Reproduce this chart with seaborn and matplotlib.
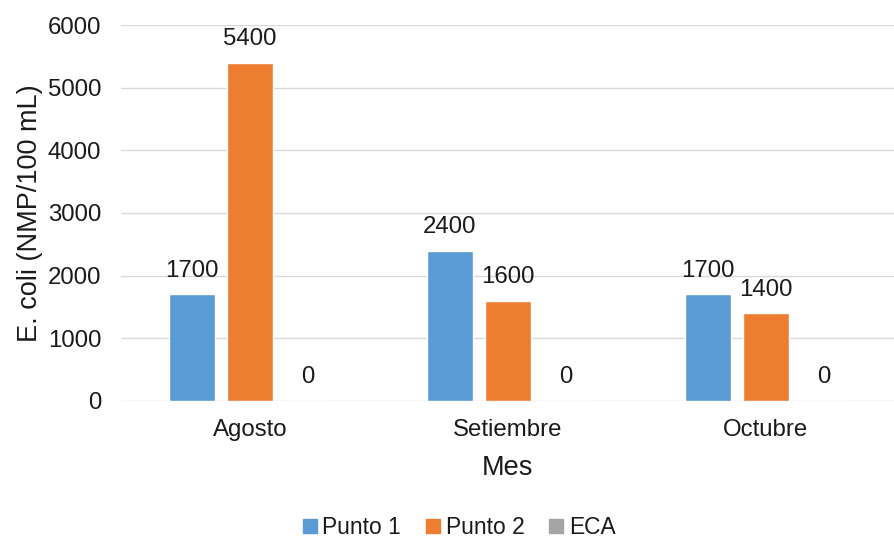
import pandas as pd
import matplotlib.pyplot as plt
import seaborn as sns

# --- data ---
meses = ["Agosto", "Setiembre", "Octubre"]
punto1 = [1700, 2400, 1700]
punto2 = [5400, 1600, 1400]
eca = [0, 0, 0]
series = ["Punto 1", "Punto 2", "ECA"]
colores = ["#5B9BD5", "#ED7D31", "#A5A5A5"]
yticks = [0, 1000, 2000, 3000, 4000, 5000, 6000]

df = pd.DataFrame({
    "Mes": meses * 3,
    "Serie": ["Punto 1"] * 3 + ["Punto 2"] * 3 + ["ECA"] * 3,
    "valor": punto1 + punto2 + eca,
})

sns.set_theme(style="white")
plt.rcParams["font.family"] = ["Liberation Sans", "DejaVu Sans"]
txt = "#1a1a1a"

fig = plt.figure(figsize=(8.95, 5.44), dpi=100)
ax = fig.add_axes([0.135, 0.263, 0.865, 0.691])

sns.barplot(data=df, x="Mes", y="valor", hue="Serie", order=meses,
            hue_order=series, palette=colores, width=0.675, gap=0.21,
            saturation=1, errorbar=None, legend=False, ax=ax)

for cont in ax.containers:
    ax.bar_label(cont, fmt="%d", padding=9, fontsize=17.3, color=txt)

ax.set_ylim(0, 6000)
ax.set_yticks(yticks)
ax.set_xlim(-0.5, 2.5)
ax.grid(axis="y", color="#D9D9D9", linewidth=1)
ax.set_axisbelow(True)
sns.despine(ax=ax, left=True, bottom=True)
ax.tick_params(axis="both", length=0, labelsize=17.3, colors=txt)
ax.tick_params(axis="y", pad=14)
ax.tick_params(axis="x", pad=13)
ax.set_ylabel("E. coli (NMP/100 mL)", fontsize=19.5, color=txt)
ax.set_xlabel("Mes", fontsize=19.5, color=txt)
ax.yaxis.set_label_coords(-0.101, 0.5)
ax.xaxis.set_label_coords(0.5, -0.145)

handles = [plt.Rectangle((0, 0), 1, 1, color=c) for c in colores]
fig.legend(handles, series, loc="center", bbox_to_anchor=(0.513, 0.03),
           ncol=3, frameon=False, fontsize=16.4, handlelength=0.6,
           handleheight=0.6, handletextpad=0.25, columnspacing=1.1,
           labelcolor=txt)

fig.savefig("out.png", dpi=100)
